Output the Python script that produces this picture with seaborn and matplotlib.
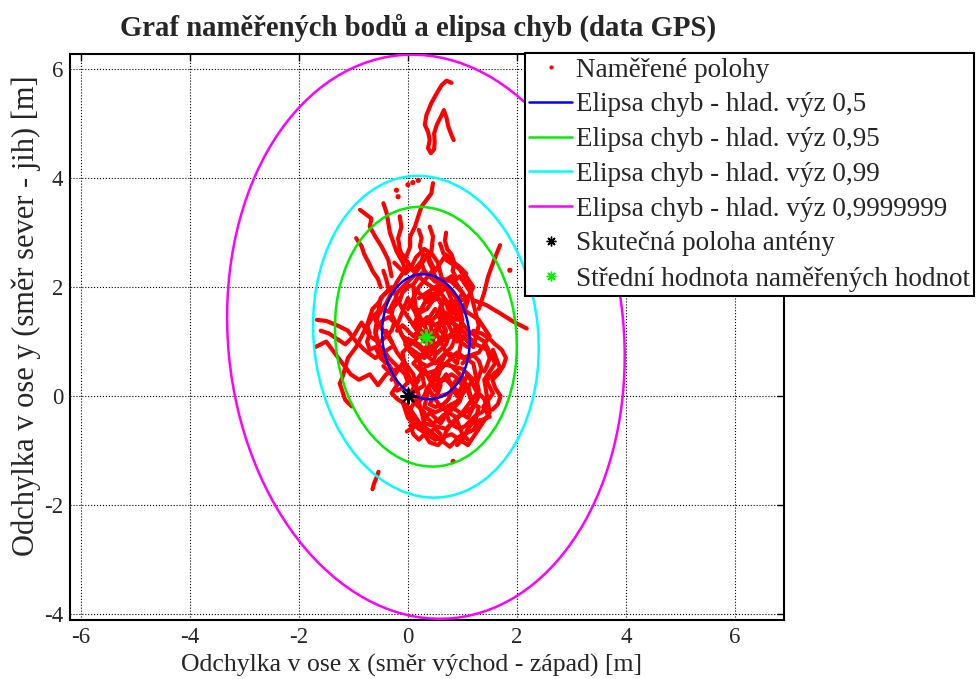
import numpy as np
import pandas as pd
import seaborn as sns
import matplotlib.pyplot as plt
from matplotlib.patches import Ellipse
from matplotlib.lines import Line2D

# %%
# odečtené stopy naměřených poloh (x, y) [m]
hook = [(0.80, 5.75), (0.71, 5.79), (0.62, 5.71), (0.53, 5.56), (0.43, 5.38), (0.34, 5.16),
        (0.31, 4.98), (0.37, 4.85), (0.40, 4.70), (0.37, 4.55), (0.42, 4.46), (0.48, 4.53),
        (0.49, 4.67), (0.48, 4.82), (0.53, 4.98), (0.62, 5.16), (0.66, 5.25), (0.71, 5.10),
        (0.74, 4.95), (0.80, 4.79), (0.84, 4.70)]
core1 = [(0.0, 1.6), (0.2, 2.0), (0.45, 2.3), (0.6, 2.0), (0.3, 1.7), (0.1, 1.3), (0.4, 1.1),
         (0.7, 1.4), (0.9, 1.8), (1.0, 1.4), (0.8, 0.9), (0.5, 0.6), (0.2, 0.9), (-0.1, 1.1),
         (-0.3, 1.5), (-0.2, 1.9), (0.1, 2.2), (0.3, 2.5)]
core2 = [(0.5, 0.2), (0.8, 0.4), (1.1, 0.2), (1.2, -0.2), (0.9, -0.4), (0.6, -0.2), (0.4, 0.1),
         (0.2, -0.1), (0.3, -0.5), (0.7, -0.6), (1.0, -0.3), (1.3, 0.1), (1.2, 0.6), (0.9, 0.8),
         (0.6, 0.5), (0.3, 0.4), (0.1, 0.6), (0.4, 0.9), (0.8, 1.1), (1.1, 0.9)]
core3 = [(-0.4, 1.2), (-0.2, 0.8), (0.1, 0.4), (0.2, 0.0), (0.0, -0.3), (0.2, -0.6), (0.5, -0.8),
         (0.8, -0.7), (1.1, -0.9), (1.3, -0.6), (1.5, -0.3), (1.4, 0.3), (1.6, 0.6), (1.4, 1.0),
         (1.1, 1.2), (0.8, 1.6), (0.6, 1.9), (0.3, 2.1), (0.0, 2.4), (-0.2, 2.1), (-0.4, 1.7),
         (-0.6, 1.4), (-0.3, 1.0)]
core4 = [(0.3, 1.3), (0.5, 1.6), (0.7, 1.2), (0.5, 0.9), (0.2, 1.5), (0.4, 1.9), (0.7, 1.7),
         (0.9, 1.2), (0.6, 1.0), (0.3, 0.7), (0.0, 0.9), (-0.2, 1.3), (0.0, 1.8), (0.2, 1.4),
         (0.5, 1.3), (0.8, 1.5), (1.0, 1.9), (0.8, 2.2), (0.5, 2.0), (0.2, 1.8)]
core5 = [(0.6, 0.0), (0.9, 0.1), (0.7, 0.3), (0.4, 0.3), (0.6, 0.6), (1.0, 0.5), (1.2, 0.3),
         (0.9, -0.1), (0.5, -0.3), (0.3, -0.2), (0.4, 0.2), (0.7, 0.8), (1.0, 0.7), (1.3, 0.8),
         (1.5, 1.1), (1.3, 1.4), (1.0, 1.6), (1.2, 2.0), (1.0, 2.3), (0.7, 2.5)]
core6 = [(-0.3, 0.3), (-0.1, 0.6), (0.1, 0.2), (0.3, 0.5), (0.5, 0.1), (0.7, 0.4), (0.9, 0.0),
         (1.1, 0.4), (1.3, 0.0), (1.1, -0.4), (0.8, -0.2), (0.6, -0.5), (0.4, -0.3), (0.2, -0.6),
         (0.0, -0.4), (-0.1, -0.1)]
core7 = [(-0.1, 2.6), (0.1, 2.3), (0.35, 2.6), (0.5, 2.3), (0.7, 2.6), (0.9, 2.4), (1.1, 2.1),
         (1.2, 1.7), (1.3, 1.3), (1.2, 0.9), (1.0, 1.1), (0.9, 0.6), (0.7, 0.8), (0.5, 1.2),
         (0.3, 1.0), (0.1, 1.3), (-0.1, 1.6), (-0.3, 2.0), (-0.5, 1.8), (-0.6, 1.2), (-0.5, 0.8),
         (-0.3, 0.5)]
core8 = [(0.0, 0.0), (0.3, 0.2), (0.2, 0.7), (0.5, 0.8), (0.4, 1.4), (0.7, 1.1), (0.6, 1.6),
         (0.9, 1.0), (1.0, 1.3), (0.7, 2.0), (0.4, 1.7), (0.1, 2.0), (0.2, 1.1), (-0.1, 0.8),
         (0.0, 0.3)]
core9 = [(-0.2, 1.2), (-0.1, 1.3), (0.0, 1.2), (0.1, 1.1), (0.2, 1.2), (0.25, 1.35), (0.35, 1.45),
         (0.45, 1.4), (0.55, 1.5), (0.6, 1.65), (0.7, 1.75), (0.8, 1.7), (0.85, 1.55), (0.95, 1.5),
         (1.05, 1.6), (1.1, 1.75), (1.0, 1.9), (0.9, 2.0), (0.8, 2.1), (0.65, 2.15), (0.5, 2.1),
         (0.4, 2.2), (0.3, 2.3), (0.2, 2.2), (0.1, 2.05), (0.0, 2.0), (-0.1, 1.9), (-0.15, 1.75),
         (-0.25, 1.65), (-0.35, 1.55)]
core10 = [(0.3, 0.0), (0.35, 0.15), (0.45, 0.25), (0.55, 0.35), (0.6, 0.5), (0.7, 0.6), (0.8, 0.55),
          (0.9, 0.45), (1.0, 0.35), (1.05, 0.2), (1.0, 0.05), (0.95, -0.1), (0.85, -0.2), (0.75, -0.3),
          (0.65, -0.35), (0.55, -0.45), (0.45, -0.5), (0.35, -0.4), (0.3, -0.3), (0.2, -0.2),
          (0.1, -0.1), (0.05, 0.05), (0.1, 0.15), (0.2, 0.3)]
core11 = [(0.9, 1.3), (0.85, 1.2), (0.75, 1.1), (0.7, 0.95), (0.6, 0.85), (0.5, 0.75), (0.45, 0.6),
          (0.35, 0.55), (0.25, 0.6), (0.15, 0.7), (0.05, 0.8), (-0.05, 0.95), (0.0, 1.05), (0.1, 1.0),
          (0.2, 0.95), (0.3, 0.85), (0.4, 1.0), (0.5, 1.1), (0.55, 1.25), (0.6, 1.35), (0.7, 1.4),
          (0.8, 1.45), (0.9, 1.4)]
core12 = [(1.0, 0.6), (1.1, 0.7), (1.2, 0.75), (1.3, 0.65), (1.35, 0.5), (1.3, 0.35), (1.25, 0.2),
          (1.3, 0.05), (1.4, -0.05), (1.45, -0.2), (1.35, -0.3), (1.25, -0.35), (1.15, -0.45),
          (1.05, -0.55), (0.95, -0.6), (0.85, -0.55), (0.75, -0.45), (0.7, -0.3)]
core13 = [(-0.5, 1.0), (-0.4, 1.1), (-0.3, 1.2), (-0.25, 1.35), (-0.35, 1.45), (-0.45, 1.4),
          (-0.55, 1.3), (-0.6, 1.15), (-0.55, 0.95), (-0.45, 0.85), (-0.35, 0.7), (-0.25, 0.6),
          (-0.15, 0.5), (-0.05, 0.4), (0.0, 0.25), (-0.1, 0.15), (-0.2, 0.1)]
core14 = [(-0.45, 0.55), (-0.35, 0.45), (-0.25, 0.35), (-0.2, 0.2), (-0.3, 0.05), (-0.2, -0.05),
          (-0.05, -0.15), (0.05, -0.25), (0.15, -0.4), (0.25, -0.55), (0.4, -0.65), (0.5, -0.6),
          (0.6, -0.7)]
core15 = [(0.95, 2.2), (1.05, 2.05), (1.15, 1.9), (1.1, 1.8), (0.95, 1.75), (0.85, 1.85), (0.75, 1.95),
          (0.65, 2.05), (0.55, 2.45), (0.45, 2.6), (0.3, 2.7), (0.15, 2.55), (0.05, 2.35),
          (-0.05, 2.25), (-0.15, 2.35), (-0.25, 2.45)]
core16 = [(-0.45, 2.3), (-0.4, 2.15), (-0.35, 1.95), (-0.45, 1.85), (-0.55, 1.7), (-0.65, 1.6),
          (-0.7, 1.45), (-0.75, 1.3), (-0.7, 1.15), (-0.75, 1.0), (-0.7, 0.85), (-0.6, 0.9),
          (-0.5, 0.7), (-0.4, 0.6)]
core17 = [(0.15, 1.6), (0.25, 1.55), (0.35, 1.6), (0.45, 1.75), (0.55, 1.8), (0.6, 1.7), (0.65, 1.55),
          (0.75, 1.5), (0.8, 1.35), (0.95, 1.25), (1.05, 1.15), (1.15, 1.05), (1.25, 0.95),
          (1.35, 0.9), (1.45, 0.85), (1.5, 0.7), (1.45, 0.55), (1.4, 0.45)]
core18 = [(0.6, 0.2), (0.55, 0.05), (0.45, -0.05), (0.4, -0.15), (0.5, -0.2), (0.65, -0.15),
          (0.75, -0.05), (0.8, 0.1), (0.85, 0.25), (0.9, 0.3), (1.0, 0.2), (1.1, 0.1), (1.15, -0.05),
          (1.2, -0.15), (1.3, -0.2), (1.25, -0.4), (1.1, -0.6), (1.0, -0.8), (0.9, -0.9)]
left1 = [(-1.67, 1.40), (-1.5, 1.38), (-1.3, 1.3), (-1.1, 1.2), (-0.95, 1.0), (-0.8, 0.85),
         (-0.6, 0.7), (-0.45, 0.8), (-0.3, 0.9)]
left2 = [(-1.7, 0.9), (-1.5, 1.0), (-1.35, 0.8), (-1.2, 0.6), (-1.05, 0.4), (-0.9, 0.3),
         (-0.7, 0.4), (-0.55, 0.2), (-0.4, 0.4), (-0.2, 0.5)]
left3 = [(-1.25, 0.23), (-1.2, 0.35), (-1.1, 0.7), (-0.95, 0.9), (-0.8, 1.2), (-0.65, 1.45),
         (-0.5, 1.6), (-0.35, 1.55), (-0.25, 1.75)]
left4 = [(-1.6, 1.2), (-1.45, 1.15), (-1.3, 1.05), (-1.15, 0.95), (-1.0, 1.1), (-0.85, 1.35),
         (-0.7, 1.1), (-0.55, 1.0)]
tail_left = [(-1.25, 0.23), (-1.15, -0.07), (-1.03, -0.19)]
up1 = [(-0.88, 3.42), (-0.67, 3.26), (-0.70, 3.11), (-0.60, 2.93), (-0.48, 2.74), (-0.36, 2.50),
       (-0.30, 2.20)]
up2 = [(-0.45, 3.54), (-0.39, 3.36), (-0.33, 3.00), (-0.21, 2.66), (-0.09, 2.44), (-0.03, 2.26)]
up3 = [(0.46, 3.91), (0.43, 3.72), (0.34, 3.60), (0.25, 3.48), (0.19, 3.30), (0.13, 3.11),
       (0.04, 2.93), (0.04, 2.74), (-0.03, 2.56)]
up4 = [(0.40, 3.11), (0.46, 2.93), (0.43, 2.65), (0.37, 2.50), (0.46, 2.31)]
up5 = [(0.59, 2.80), (0.65, 2.62), (0.77, 2.50), (0.95, 2.37), (1.07, 2.25)]
up6 = [(0.70, 3.00), (0.68, 2.85), (0.72, 2.70), (0.80, 2.60), (0.85, 2.45), (0.82, 2.30), (0.90, 2.15)]
up7 = [(-0.15, 3.30), (-0.12, 3.10), (-0.18, 2.90), (-0.15, 2.70), (-0.10, 2.55), (0.00, 2.45)]
up8 = [(0.20, 3.05), (0.25, 2.90), (0.22, 2.75), (0.28, 2.60), (0.25, 2.45), (0.30, 2.30)]
up9 = [(-0.95, 2.90), (-0.85, 2.75), (-0.80, 2.60), (-0.72, 2.45), (-0.65, 2.30), (-0.55, 2.15),
       (-0.50, 2.00)]
right1 = [(1.69, 2.77), (1.63, 2.62), (1.56, 2.44), (1.47, 2.19), (1.40, 1.90), (1.30, 1.60)]
right2 = [(2.18, 1.24), (1.93, 1.37), (1.69, 1.52), (1.44, 1.67), (1.20, 1.76)]
right3 = [(1.56, 0.85), (1.69, 0.51), (1.44, 0.29), (1.56, 0.05), (1.38, -0.20), (1.50, -0.38),
          (1.20, -0.50)]
right4 = [(1.20, 1.20), (1.35, 1.15), (1.50, 1.05), (1.60, 0.95), (1.72, 0.85), (1.80, 0.70),
          (1.75, 0.55), (1.65, 0.40), (1.55, 0.30), (1.60, 0.15), (1.70, 0.00), (1.65, -0.15),
          (1.55, -0.25)]
bottom = [(-0.02, -0.65), (0.22, -0.50), (0.52, -0.74), (0.77, -0.93), (0.95, -0.74),
          (1.20, -0.62), (1.32, -0.44)]
bottom2 = [(0.10, -0.40), (0.05, -0.55), (0.10, -0.70), (0.20, -0.80), (0.30, -0.70), (0.40, -0.85),
           (0.55, -0.90), (0.65, -0.80), (0.70, -0.65), (0.80, -0.50), (0.90, -0.45), (1.00, -0.70),
           (1.10, -0.80)]
tail_bottom = [(-0.54, -1.39), (-0.57, -1.48), (-0.62, -1.60), (-0.65, -1.71)]

dots_x = [-0.21, -0.18, 0.00, 0.09, 0.19, 1.87, 0.83]
dots_y = [3.78, 3.66, 3.88, 3.92, 3.96, 2.31, -1.20]

# skutečná poloha a střední hodnota
true_pos = (0.0, 0.0)
mean_pos = (0.33, 1.09)

# elipsy chyb: poloosy (a, b) [m], natočení [deg]
levels = ["0,5", "0,95", "0,99", "0,9999999"]
semi_a = [1.15, 2.39, 2.96, 5.19]
semi_b = [0.80, 1.66, 2.06, 3.63]
angle = 95.5
colors = ["#0000ff", "#00ee00", "#00ffff", "#ff00ff"]

traces = [hook, core1, core2, core3, core4, core5, core6, core7, core8, core9, core10, core11,
          core12, core13, core14, core15, core16, core17, core18, left1, left2, left3, left4,
          tail_left, up1, up2, up3, up4, up5, up6, up7, up8, up9, right1, right2, right3, right4,
          bottom, bottom2, tail_bottom]

# %%
rows = []
for i, tr in enumerate(traces):
    for px, py in tr:
        rows.append({"trace": i, "x": px, "y": py})
df = pd.DataFrame(rows)

sns.set_theme(style="white")
plt.rcParams["font.family"] = ["Liberation Serif", "DejaVu Serif"]
plt.rcParams["axes.unicode_minus"] = False

fig = plt.figure(figsize=(9.78, 6.79), dpi=100)
ax = fig.add_axes([70 / 978, 1 - 620 / 679, 714 / 978, 566 / 679])

sns.lineplot(data=df, x="x", y="y", units="trace", estimator=None, sort=False,
             color="red", lw=3.0, legend=False, ax=ax,
             solid_joinstyle="round", solid_capstyle="round")
sns.scatterplot(x=dots_x, y=dots_y, color="red", s=14, edgecolor="none", ax=ax)

for a, b, c in zip(semi_a, semi_b, colors):
    ax.add_patch(Ellipse(mean_pos, 2 * a, 2 * b, angle=angle, fill=False, ec=c, lw=1.8, zorder=3))

sns.scatterplot(x=[true_pos[0]], y=[true_pos[1]], marker=(8, 2, 0), color="black", s=110,
                linewidth=1.6, ax=ax, zorder=4)
sns.scatterplot(x=[mean_pos[0]], y=[mean_pos[1]], marker=(8, 2, 0), color="#00ee00", s=110,
                linewidth=1.6, ax=ax, zorder=4)

ax.set_xlim(-6.2, 6.9)
ax.set_ylim(-4.11, 6.28)
ax.set_xticks([-6, -4, -2, 0, 2, 4, 6])
ax.set_yticks([-4, -2, 0, 2, 4, 6])
ax.grid(True, linestyle=":", color="black", lw=0.8)
ax.tick_params(direction="in", top=True, right=True, length=5, width=1, labelsize=16.5,
               color="black", pad=5)
for s in ax.spines.values():
    s.set_color("black")
    s.set_linewidth(1.5)

ax.set_title("Graf naměřených bodů a elipsa chyb (data GPS)", fontsize=20.7, fontweight="bold",
             pad=13, x=0.487)
ax.set_xlabel("Odchylka v ose x (směr východ - západ) [m]", fontsize=18.5)
ax.set_ylabel("Odchylka v ose y (směr sever - jih) [m]", fontsize=22)
ax.xaxis.set_label_coords(0.478, -0.06)
ax.yaxis.set_label_coords(-0.04, 0.537)

handles = [Line2D([], [], ls="none", marker=".", color="red", markersize=4, label="Naměřené polohy")]
for lv, c in zip(levels, colors):
    handles.append(Line2D([], [], color=c, lw=1.8, label="Elipsa chyb - hlad. výz " + lv))
handles.append(Line2D([], [], ls="none", marker=(8, 2, 0), color="black", markersize=7,
                      label="Skutečná poloha antény"))
handles.append(Line2D([], [], ls="none", marker=(8, 2, 0), color="#00ee00", markersize=7,
                      label="Střední hodnota naměřených hodnot"))
leg = fig.legend(handles=handles, loc="upper left", bbox_to_anchor=(525 / 978, 1 - 53 / 679),
                 fontsize=19.5, frameon=True, fancybox=False, framealpha=1, edgecolor="black",
                 borderpad=0.15, labelspacing=0.36, handlelength=1.6, handletextpad=0.12,
                 borderaxespad=0)
leg.get_frame().set_linewidth(1.5)

fig.savefig("out.png", dpi=100, facecolor="white")
